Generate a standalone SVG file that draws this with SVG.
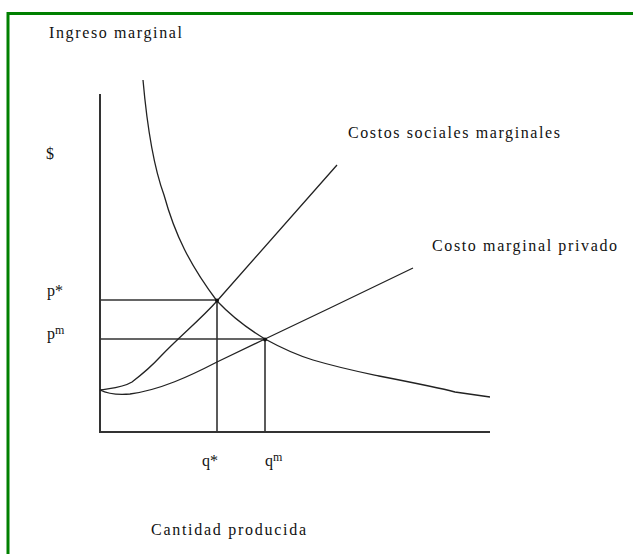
<svg xmlns="http://www.w3.org/2000/svg" width="633" height="554" viewBox="0 0 633 554">
<style>
.t{font-family:"Liberation Serif","Times New Roman",serif;font-size:16px;fill:#111}
.ax{stroke:#333;stroke-width:2;fill:none}
.c{stroke:#222;stroke-width:1.3;fill:none;stroke-linejoin:round}
.g{stroke:#333;stroke-width:1.6;fill:none}
</style>
<rect width="633" height="554" fill="#fff"/>
<g id="border" fill="none" stroke="#008000" stroke-width="3">
<path d="M8,554 V13.5 H633"/>
</g>
<g id="axes">
<path class="ax" d="M100,94 V432 H490"/>
</g>
<g id="connectors">
<path class="g" d="M100,300 H217 V432"/>
<path class="g" d="M100,339 H265 V432"/>
</g>
<g id="ingreso-marginal-curve">
<path class="c" d="M143,80 C147,125 153,165 164,195 C175,235 190,265 217,301 C235,320 250,330 265,339 C285,350 300,356 313,360 C340,368 360,372 379,376 C420,384 440,388 455,392 L490,397"/>
</g>
<g id="costos-sociales-curve">
<path class="c" d="M100,390 C112,388 122,388 132,382 C145,372 150,368 160,357 C180,336 200,320 217,301 L337,165"/>
</g>
<g id="costo-privado-curve">
<path class="c" d="M100,390 C108,394 118,395 130,394 C160,390 190,376 217,362 L265,339 L330,308 L413,268"/>
</g>
<g id="points">
<circle cx="217" cy="300.5" r="2" fill="#111"/>
<circle cx="265" cy="339.5" r="2" fill="#111"/>
</g>
<g id="labels">
<text class="t" x="49" y="38" textLength="133" lengthAdjust="spacing">Ingreso marginal</text>
<text class="t" x="46" y="159">$</text>
<text class="t" x="348" y="138" textLength="212" lengthAdjust="spacing">Costos sociales marginales</text>
<text class="t" x="432" y="251" textLength="185" lengthAdjust="spacing">Costo marginal privado</text>
<text class="t" x="47" y="296">p*</text>
<text class="t" x="47" y="339">p<tspan font-size="12" dy="-5">m</tspan></text>
<text class="t" x="202" y="466">q*</text>
<text class="t" x="265" y="466">q<tspan font-size="12" dy="-5">m</tspan></text>
<text class="t" x="151" y="535" textLength="155" lengthAdjust="spacing">Cantidad producida</text>
</g>
</svg>
